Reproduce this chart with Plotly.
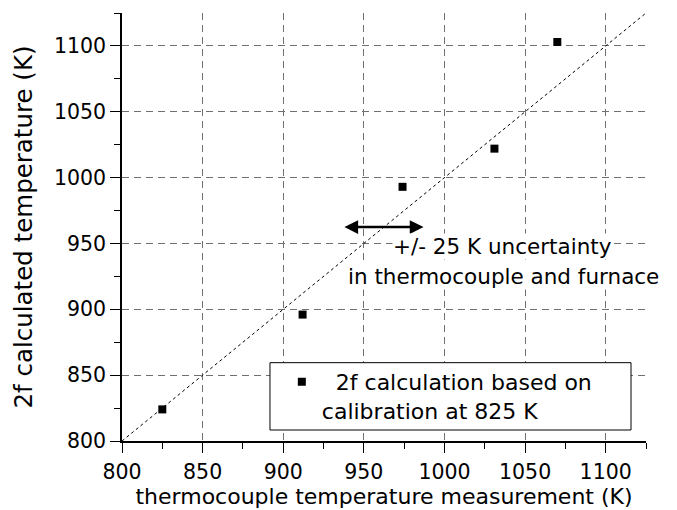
import plotly.graph_objects as go

# Thermocouple reading vs. 2f-calculated temperature (K)
thermocouple_K = [825, 912, 974, 1031, 1070]
calculated_K = [824, 896, 993, 1022, 1103]

# y = x reference line across the axis range
parity_K = [800, 1125]

axis_range = [800, 1125]
tick_vals = [800, 850, 900, 950, 1000, 1050, 1100]

# +/- 25 K uncertainty bar
uncert_center = (962, 962.5)
uncert_half = 25

FONT = "DejaVu Sans"

fig = go.Figure()

fig.add_trace(go.Scatter(
    x=parity_K, y=parity_K, mode="lines",
    line=dict(color="black", width=1, dash="3px,3px"),
    showlegend=False, hoverinfo="skip",
))

fig.add_trace(go.Scatter(
    x=thermocouple_K, y=calculated_K, mode="markers",
    marker=dict(symbol="square", size=8, color="black"),
    name="\u00a0\u00a02f calculation based on<br>calibration at 825 K",
))

axis_common = dict(
    range=axis_range, tickvals=tick_vals, automargin=False,
    showline=True, linecolor="black", linewidth=1.5,
    ticks="outside", ticklen=10, tickwidth=1.2, tickcolor="black",
    tickfont=dict(family=FONT, size=20.5, color="black"),
    showgrid=True, gridcolor="#707070", gridwidth=1, griddash="7px,5px",
    zeroline=False, mirror=False,
    minor=dict(dtick=25, ticks="outside", ticklen=6, tickwidth=1,
               tickcolor="black", showgrid=False),
)

fig.update_xaxes(
    **axis_common,
    ticklabelstandoff=2,
    title=dict(text="thermocouple temperature measurement (K)",
               font=dict(family=FONT, size=22, color="black"), standoff=4),
)
fig.update_yaxes(
    **axis_common,
    title=dict(text="2f calculated temperature (K)",
               font=dict(family=FONT, size=24.5, color="black"), standoff=14),
)

# legend frame
fig.add_shape(
    type="rect", xref="paper", yref="paper",
    x0=0.2824, x1=0.9714, y0=0.0257, y1=0.183,
    line=dict(color="black", width=1), fillcolor="white", layer="above",
)

# double-headed uncertainty arrow
cx, cy = uncert_center
fig.add_annotation(
    x=cx + uncert_half, y=cy, ax=cx - uncert_half, ay=cy,
    xref="x", yref="y", axref="x", ayref="y",
    showarrow=True, arrowhead=2, arrowsize=1.1, arrowwidth=2.5,
    arrowside="end+start", arrowcolor="black", text="",
)

fig.add_annotation(
    x=1036.0, y=947.8, xref="x", yref="y", showarrow=False,
    text="+/- 25 K uncertainty", bgcolor="white", borderpad=0,
    font=dict(family=FONT, size=21.5, color="black"),
)
fig.add_annotation(
    x=1036.9, y=925.0, xref="x", yref="y", showarrow=False,
    text="in thermocouple and furnace", bgcolor="white", borderpad=0,
    font=dict(family=FONT, size=21.5, color="black"),
)

fig.update_layout(
    width=677, height=510,
    margin=dict(l=122, r=31, t=13, b=69),
    paper_bgcolor="white", plot_bgcolor="white",
    showlegend=True,
    legend=dict(
        x=0.305, y=0.187, xanchor="left", yanchor="top",
        bgcolor="rgba(0,0,0,0)", borderwidth=0, valign="top",
        font=dict(family=FONT, size=22, color="black"),
    ),
)

fig.write_html("out.html")
